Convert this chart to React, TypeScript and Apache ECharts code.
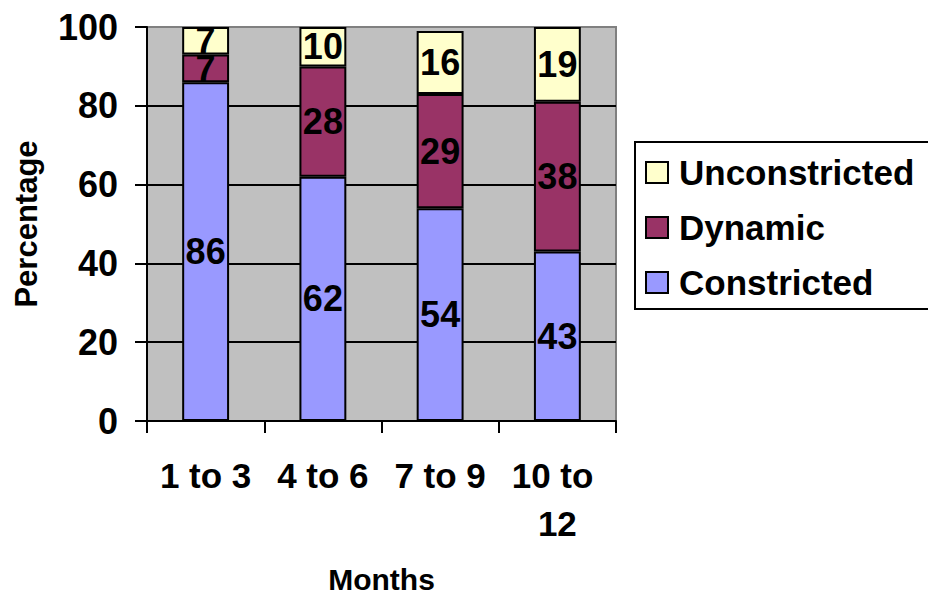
import React, { useEffect, useRef } from "react";
import * as echarts from "echarts";

const categories = ["1 to 3", "4 to 6", "7 to 9", "10 to 12"];
const constricted = [86, 62, 54, 43];
const dynamic = [7, 28, 29, 38];
const unconstricted = [7, 10, 16, 19];
const yTicks = { min: 0, max: 100, interval: 20 };

const FONT = "'Liberation Sans', Arial, sans-serif";

export default function App() {
  const ref = useRef<HTMLDivElement>(null);
  useEffect(() => {
    if (!ref.current) return;
    const chart = echarts.init(ref.current, null, { renderer: "svg" });
    const label = {
      show: true,
      position: "inside",
      color: "#000",
      fontSize: 36,
      fontWeight: "bold",
      fontFamily: FONT,
    };
    const mk = (name: string, data: number[], color: string) => ({
      name,
      type: "bar",
      stack: "total",
      data,
      barWidth: "40%",
      itemStyle: { color, borderColor: "#000", borderWidth: 2 },
      label,
    });
    chart.setOption({
      animation: false,
      textStyle: { fontFamily: FONT },
      grid: {
        left: 147,
        right: 312,
        top: 27,
        bottom: 180,
        outerBoundsMode: "none",
        containLabel: false,
        show: true,
        backgroundColor: "#c0c0c0",
        borderColor: "#808080",
        borderWidth: 2,
      },
      legend: {
        data: ["Unconstricted", "Dynamic", "Constricted"],
        orient: "vertical",
        left: 635,
        top: 142,
        borderColor: "#000",
        borderWidth: 2,
        padding: [12, 20, 8, 10],
        itemWidth: 22,
        itemHeight: 21,
        itemGap: 18,
        icon: "rect",
        textStyle: {
          fontSize: 35,
          fontWeight: "bold",
          color: "#000",
          fontFamily: FONT,
          lineHeight: 37,
          padding: [0, 0, 0, 6],
        },
      },
      xAxis: {
        type: "category",
        data: categories,
        name: "Months",
        nameLocation: "middle",
        nameGap: 143,
        nameTextStyle: { fontSize: 30, fontWeight: "bold", color: "#000", fontFamily: FONT },
        axisLine: { lineStyle: { color: "#000", width: 2 } },
        axisTick: { show: true, length: 12, alignWithLabel: false, lineStyle: { color: "#000", width: 2 } },
        axisLabel: {
          fontSize: 35,
          fontWeight: "bold",
          color: "#000",
          fontFamily: FONT,
          margin: 30,
          lineHeight: 48,
          width: 108,
          overflow: "break",
          interval: 0,
        },
      },
      yAxis: {
        type: "value",
        min: yTicks.min,
        max: yTicks.max,
        interval: yTicks.interval,
        name: "Percentage",
        nameLocation: "middle",
        nameGap: 105,
        nameTextStyle: { fontSize: 31, fontWeight: "bold", color: "#000", fontFamily: FONT },
        axisLine: { show: true, lineStyle: { color: "#000", width: 2 } },
        axisTick: { show: true, length: 12, lineStyle: { color: "#000", width: 2 } },
        axisLabel: {
          fontSize: 36,
          fontWeight: "bold",
          color: "#000",
          fontFamily: FONT,
          margin: 29,
        },
        splitLine: {
          show: true,
          lineStyle: { color: ["#000", "#000", "#000", "#000", "#000", "#808080"], width: 2 },
        },
      },
      series: [
        mk("Constricted", constricted, "#9999ff"),
        mk("Dynamic", dynamic, "#993366"),
        mk("Unconstricted", unconstricted, "#ffffcc"),
      ],
    });
    return () => chart.dispose();
  }, []);
  return (
    <div
      ref={ref}
      style={{ position: "fixed", left: 0, top: 0, width: 928, height: 601, background: "#fff" }}
    />
  );
}
